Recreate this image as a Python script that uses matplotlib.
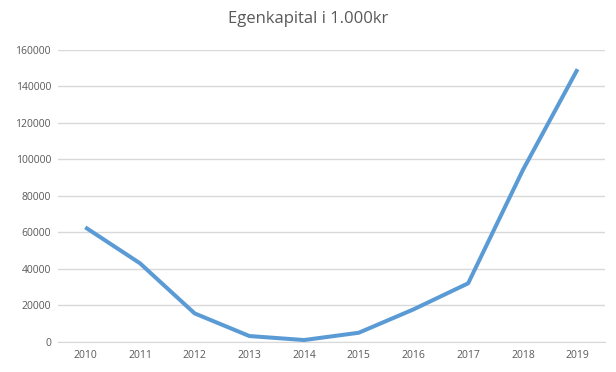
import matplotlib.pyplot as plt

years = ['2010', '2011', '2012', '2013', '2014', '2015', '2016', '2017', '2018', '2019']
equity = [62700, 43000, 15500, 3100, 900, 4900, 17700, 32000, 94100, 149400]
yticks = [0, 20000, 40000, 60000, 80000, 100000, 120000, 140000, 160000]

plt.rcParams['font.family'] = ['Open Sans', 'DejaVu Sans']

fig = plt.figure(figsize=(6.16, 3.72), dpi=100)
ax = fig.add_axes([0.094, 0.0815, 0.888, 0.7845])

x = list(range(len(years)))
ax.plot(x, equity, color='#5B9BD5', linewidth=2.9, solid_capstyle='butt', zorder=3)

ax.set_xlim(-0.5, len(years) - 0.5)
ax.set_ylim(0, 160000)
ax.set_xticks(x)
ax.set_xticklabels(years)
ax.set_yticks(yticks)
ax.set_yticklabels([str(v) for v in yticks])
ax.tick_params(length=0, labelsize=7.5, labelcolor='#595959', pad=6)
ax.tick_params(axis='y', pad=5)

ax.grid(axis='y', color='#d9d9d9', linewidth=1)
ax.set_axisbelow(True)
for side in ['top', 'right', 'left']:
    ax.spines[side].set_visible(False)
ax.spines['bottom'].set_color('#d9d9d9')

fig.suptitle('Egenkapital i 1.000kr', x=0.5, y=0.97, fontsize=12, color='#595959')

fig.savefig('out.png', dpi=100)
